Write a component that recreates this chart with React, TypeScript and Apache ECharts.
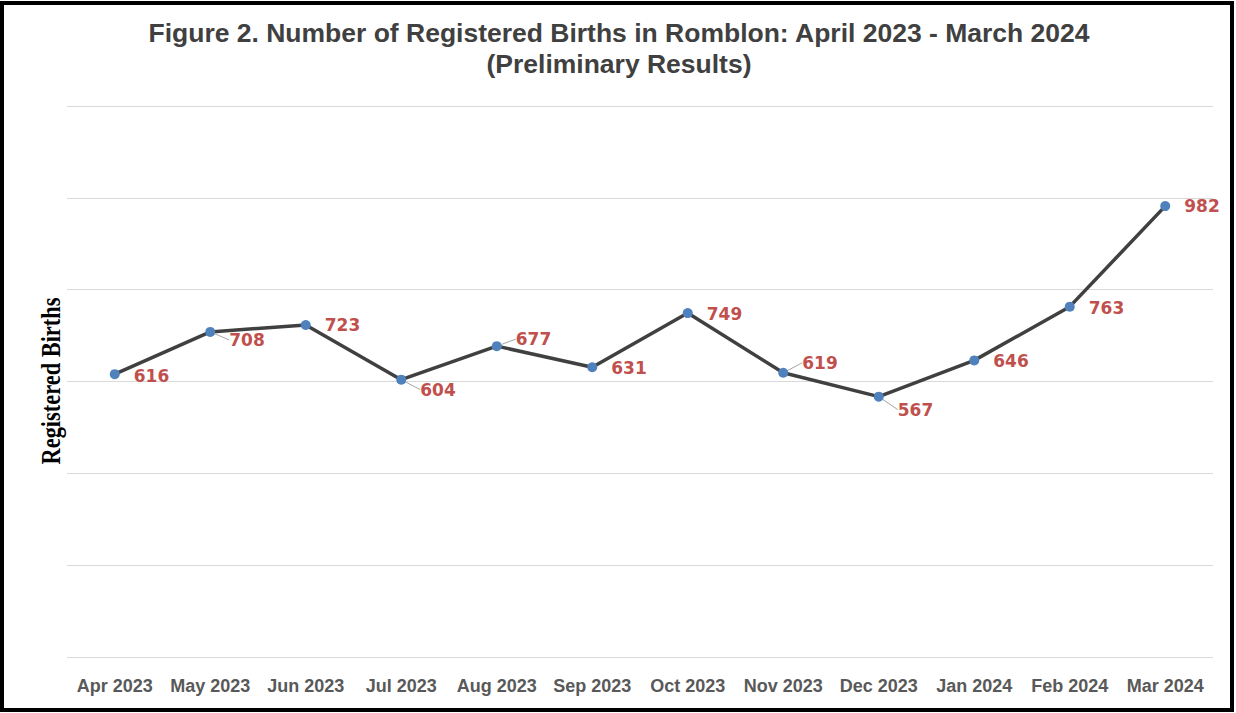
import React, { useEffect, useRef } from "react";
import * as echarts from "echarts";

const categories = [
  "Apr 2023", "May 2023", "Jun 2023", "Jul 2023", "Aug 2023", "Sep 2023",
  "Oct 2023", "Nov 2023", "Dec 2023", "Jan 2024", "Feb 2024", "Mar 2024",
];
const births = [616, 708, 723, 604, 677, 631, 749, 619, 567, 646, 763, 982];
const yMin = 0;
const yMax = 1200;
const yInterval = 200;

const titleLine1 = "Figure 2. Number of Registered Births in Romblon: April 2023 - March 2024";
const titleLine2 = "(Preliminary Results)";
const yAxisTitle = "Registered Births";

// vertical label shift (px) per point and whether a leader line is shown
const labelShift = [2, 8, 0, 10, -7, 1, 1, -10, 13, 1, 1, 0];
const hasLeader = [false, true, false, true, true, false, false, true, true, false, false, false];

export default function App() {
  const ref = useRef<HTMLDivElement>(null);
  useEffect(() => {
    if (!ref.current) return;
    const chart = echarts.init(ref.current, null, { renderer: "svg" });
    const seriesData = births.map((v, i) => ({
      value: v,
      labelLine: { show: hasLeader[i] },
    }));
    chart.setOption({
      animation: false,
      backgroundColor: "#ffffff",
      grid: { left: 67, right: 23, top: 106, bottom: 56, containLabel: false },
      xAxis: {
        type: "category",
        data: categories,
        boundaryGap: true,
        axisLine: { show: false },
        axisTick: { show: false },
        axisLabel: {
          interval: 0,
          color: "#595959",
          fontFamily: "Liberation Sans, Arial, sans-serif",
          fontWeight: "bold",
          fontSize: 18,
          margin: 20,
        },
      },
      yAxis: {
        type: "value",
        min: yMin,
        max: yMax,
        interval: yInterval,
        axisLabel: { show: false },
        axisLine: { show: false },
        axisTick: { show: false },
        splitLine: { lineStyle: { color: "#D9D9D9", width: 1 } },
      },
      graphic: [
        {
          type: "text",
          x: 619,
          y: 33,
          scaleX: 1.06,
          style: {
            text: titleLine1,
            fill: "#404040",
            font: "bold 25px 'Liberation Sans', Arial, sans-serif",
            align: "center",
            verticalAlign: "middle",
          },
        },
        {
          type: "text",
          x: 619,
          y: 64,
          scaleX: 1.06,
          style: {
            text: titleLine2,
            fill: "#404040",
            font: "bold 25px 'Liberation Sans', Arial, sans-serif",
            align: "center",
            verticalAlign: "middle",
          },
        },
        {
          type: "text",
          x: 50,
          y: 381,
          rotation: Math.PI / 2,
          scaleX: 0.8,
          style: {
            text: yAxisTitle,
            fill: "#000000",
            font: "bold 28px 'Liberation Serif', 'Times New Roman', serif",
            align: "center",
            verticalAlign: "middle",
          },
        },
      ],
      series: [
        {
          type: "line",
          data: seriesData,
          symbol: "circle",
          symbolSize: 10,
          itemStyle: { color: "#4F81BD" },
          lineStyle: { color: "#404040", width: 3.5 },
          z: 3,
          label: {
            show: true,
            position: "right",
            distance: 14,
            color: "#C0504D",
            fontFamily: "DejaVu Sans, sans-serif",
            fontWeight: "bold",
            fontSize: 17,
          },
          labelLine: {
            show: false,
            lineStyle: { color: "#A6A6A6", width: 1 },
          },
          labelLayout: (params: any) => ({
            dy: labelShift[params.dataIndex] || 0,
          }),
        },
      ],
    });
    return () => chart.dispose();
  }, []);

  return (
    <div style={{ position: "fixed", left: 0, top: 0, width: 1236, height: 713, background: "#fff" }}>
      <div ref={ref} style={{ position: "absolute", left: 0, top: 0, width: 1236, height: 713 }} />
      <div
        style={{
          position: "absolute",
          left: 0,
          top: 1,
          width: 1234,
          height: 711,
          boxSizing: "border-box",
          border: "4px solid #000",
          pointerEvents: "none",
        }}
      />
    </div>
  );
}
